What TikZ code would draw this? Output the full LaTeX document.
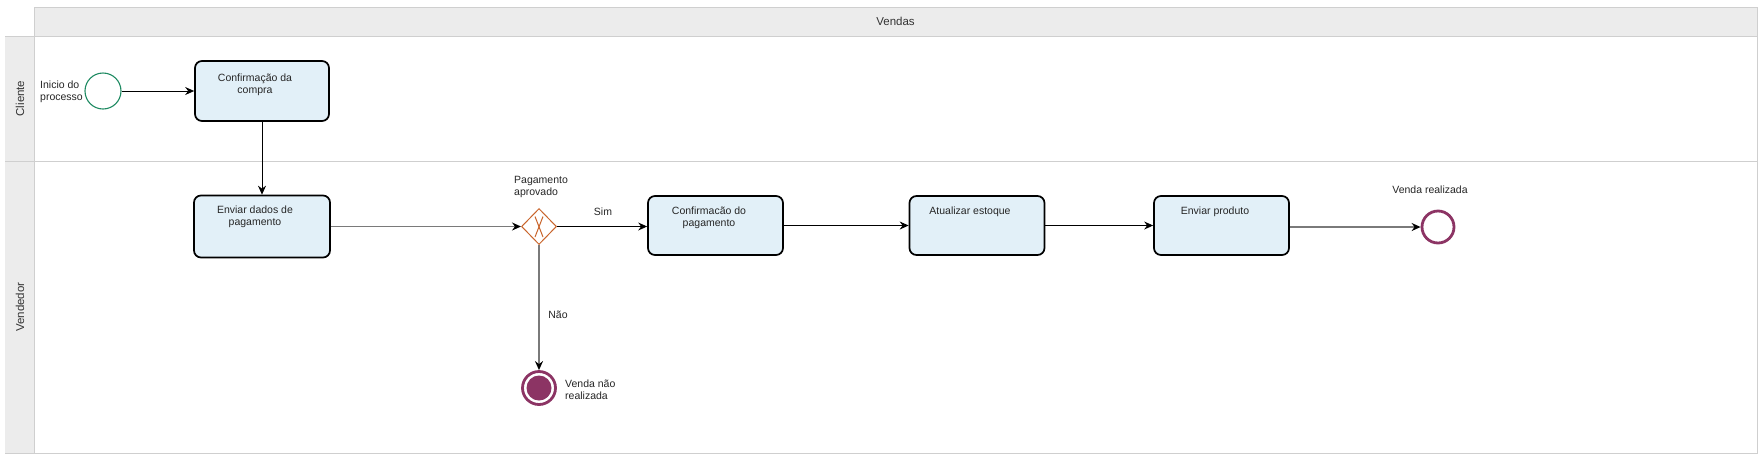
\documentclass[tikz,border=0pt]{standalone}
\usepackage{fontspec}
\setmainfont{Liberation Sans}
\usetikzlibrary{shapes.geometric,arrows.meta}
\definecolor{lanefill}{HTML}{ECECEC}
\definecolor{laneline}{HTML}{CFCFCF}
\definecolor{taskfill}{HTML}{E2F0F8}
\definecolor{startgreen}{HTML}{1E8A62}
\definecolor{gworange}{HTML}{C9652C}
\definecolor{endmaroon}{HTML}{8C3464}
\definecolor{flowgray}{HTML}{7A7A7A}
\tikzset{
  txt/.style={font=\fontsize{10.5}{12}\selectfont, inner sep=0pt, align=center, text=black!85},
  txtl/.style={txt, align=left},
  lanetxt/.style={font=\fontsize{11.5}{13}\selectfont, inner sep=0pt, text=black!80},
  task/.style={draw=black, line width=1.7pt, fill=taskfill, rounded corners=7pt, minimum width=135pt, minimum height=59pt, inner sep=0pt},
  startev/.style={circle, draw=startgreen, line width=1.1pt, minimum size=36pt, inner sep=0pt},
  endev/.style={circle, draw=endmaroon, line width=2.8pt, minimum size=32pt, inner sep=0pt},
  gateway/.style={diamond, draw=gworange, line width=1pt, minimum width=35pt, minimum height=36pt, inner sep=0pt},
  flow/.style={draw=black, line width=0.9pt, -{Stealth[length=9pt,width=8pt,inset=3pt]}},
  gflow/.style={draw=flowgray, line width=1.8pt, -{Stealth[length=9pt,width=8pt,inset=3pt,color=black]}},
}
\begin{document}
\begin{tikzpicture}[x=1pt,y=-1pt]
\useasboundingbox (0,0) rectangle (1762,459);
% pool
\fill[white] (0,0) rectangle (1762,459);
\fill[lanefill] (34,7) rectangle (1757,36);
\fill[lanefill] (5,36) rectangle (34,453);
\draw[laneline, line width=1pt] (34,7) rectangle (1757,453);
\draw[laneline, line width=1pt] (5,36) -- (1757,36);
\draw[laneline, line width=1pt] (5,161) -- (1757,161);
\draw[laneline, line width=1pt] (5,453) -- (1757,453);
\node[lanetxt] (pooltitle) at (895.5,21.5) {Vendas};
\node[lanetxt, rotate=90] (lanec) at (20,98.5) {Cliente};
\node[lanetxt, rotate=90] (lanev) at (20,307) {Vendedor};

% events and tasks
\node[startev] (start) at (103,91) {};
\node[txtl, anchor=west] (starttxt) at (40,92) {Inicio do\\processo};

\node[task, minimum width=134pt, minimum height=60pt] (t1) at (262,91) {};
\node[txt] (t1txt) at (255,85) {Confirmação da\\compra};

\node[task, minimum width=136pt, minimum height=62pt] (t2) at (262,226.5) {};
\node[txt] (t2txt) at (255,217) {Enviar dados de\\pagamento};

\node[gateway] (gw) at (539,226.5) {};
\draw[gworange, line width=1pt] ([shift={(-4,-10)}]gw.center) -- ([shift={(4,10.5)}]gw.center);
\draw[gworange, line width=1pt] ([shift={(4,-10)}]gw.center) -- ([shift={(-4,10.5)}]gw.center);
\node[txtl, anchor=west] (gwtxt) at (514,187) {Pagamento\\aprovado};

\node[task] (t3) at (715.5,225.5) {};
\node[txt] (t3txt) at (709,218) {Confirmacão do\\pagamento};

\node[task] (t4) at (977,225.5) {};
\node[txt] (t4txt) at (970,212) {Atualizar estoque};

\node[task] (t5) at (1221.5,225.5) {};
\node[txt] (t5txt) at (1215,212) {Enviar produto};

\node[endev] (endok) at (1438,227) {};
\node[txt] (endoktxt) at (1430,190) {Venda realizada};

\node[endev, minimum size=33pt] (endno) at (539,388) {};
\fill[endmaroon] (endno.center) circle (12.5pt);
\node[txtl, anchor=west] (endnotxt) at (565,389.5) {Venda não\\realizada};

% flows
\draw[flow] (start) -- (t1);
\draw[flow] (t1) -- (t2);
\draw[gflow] (t2) -- (gw);
\draw[flow] (gw.east) -- (t3.west |- gw.east);
\node[txt] (sim) at (603,212) {Sim};
\draw[flow] (t3) -- (t4);
\draw[flow] (t4) -- (t5);
\draw[gflow] (t5.east |- endok.west) -- (endok.west);
\draw[gflow] (gw.south) -- (endno.north);
\node[txt] (nao) at (558,315) {Não};
\end{tikzpicture}
\end{document}
